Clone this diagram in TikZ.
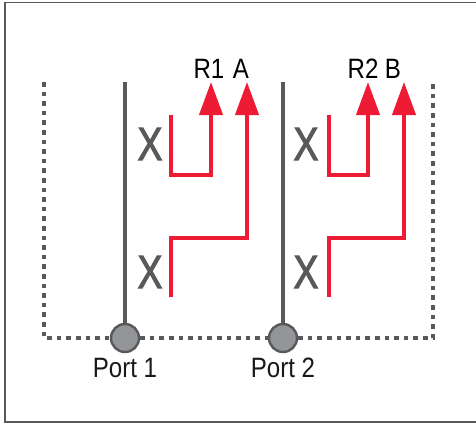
\documentclass[tikz,border=0pt]{standalone}
\usepackage{fontspec}
\setmainfont[FakeStretch=0.86]{Liberation Sans}
\newfontfamily\xfont[FakeStretch=0.8,FakeBold=2]{Liberation Sans}
\usepackage{tikz}
\usetikzlibrary{arrows.meta,positioning}
\definecolor{portgray}{HTML}{58595B}
\definecolor{portfill}{HTML}{939598}
\definecolor{pathred}{HTML}{ED1C34}

\begin{document}
\begin{tikzpicture}[x=1pt,y=-1pt,font=\fontsize{28}{30}\selectfont,
   port/.style={circle,draw=portgray,fill=portfill,line width=2.4pt,
                minimum size=28pt,inner sep=0pt},
   plabel/.style={below=1pt of #1,text=black!90},
   wire/.style={portgray,line width=3.6pt},
   tap/.style={pathred,line width=4pt,
               -{Triangle[width=23pt,length=33pt]}},
   fence/.style={portgray,line width=4.8pt,dash pattern=on 4.6pt off 5pt},
   xmark/.style={text=portgray,inner sep=0pt,
                 font=\xfont\fontsize{47}{47}\selectfont}]
  \useasboundingbox (0,0) rectangle (476,423);
  % frame, open on the right
  \draw[portgray,line width=1.6pt] (476,2.5) -- (5,2.5) -- (5,422) -- (476,422);

  % ports
  \node[port] (p1) at (125,338) {};
  \node[port] (p2) at (283,338) {};
  \node[plabel=p1] (l1) {Port 1};
  \node[plabel=p2] (l2) {Port 2};

  % dotted enclosure
  \coordinate (fl) at (44,82);
  \coordinate (fr) at (433,82);
  \draw[fence] (fl) |- (p1.west);
  \draw[fence] (p1.east) -- (p2.west);
  \draw[fence] (p2.east) -| (fr);

  % main lines
  \coordinate (t1) at (125,82);
  \coordinate (t2) at (283,82);
  \draw[wire] (p1.north) -- (t1);
  \draw[wire] (p2.north) -- (t2);

  % couplers, port 1
  \node[xmark] (x1a) at (150,144) {X};
  \node[xmark] (x1b) at (150,272) {X};
  \coordinate (u1s) at (171,115);
  \coordinate (u1b) at (171,175);
  \coordinate (r1) at (211,82);
  \coordinate (z1s) at (171,297);
  \coordinate (z1m) at (171,238);
  \coordinate (a1) at (247,82);
  \draw[tap] (u1s) -- (u1b) -| (r1);
  \draw[tap] (z1s) -- (z1m) -| (a1);
  \node[above=0pt of r1,xshift=-2pt] (lr1) {R1};
  \node[above=0pt of a1,xshift=-6pt] (la1) {A};

  % couplers, port 2
  \node[xmark] (x2a) at (306,144) {X};
  \node[xmark] (x2b) at (306,272) {X};
  \coordinate (u2s) at (329,115);
  \coordinate (u2b) at (329,175);
  \coordinate (r2) at (368,82);
  \coordinate (z2s) at (329,297);
  \coordinate (z2m) at (329,238);
  \coordinate (b2) at (404,82);
  \draw[tap] (u2s) -- (u2b) -| (r2);
  \draw[tap] (z2s) -- (z2m) -| (b2);
  \node[above=0pt of r2,xshift=-5pt] (lr2) {R2};
  \node[above=0pt of b2,xshift=-11pt] (lb2) {B};
\end{tikzpicture}
\end{document}
